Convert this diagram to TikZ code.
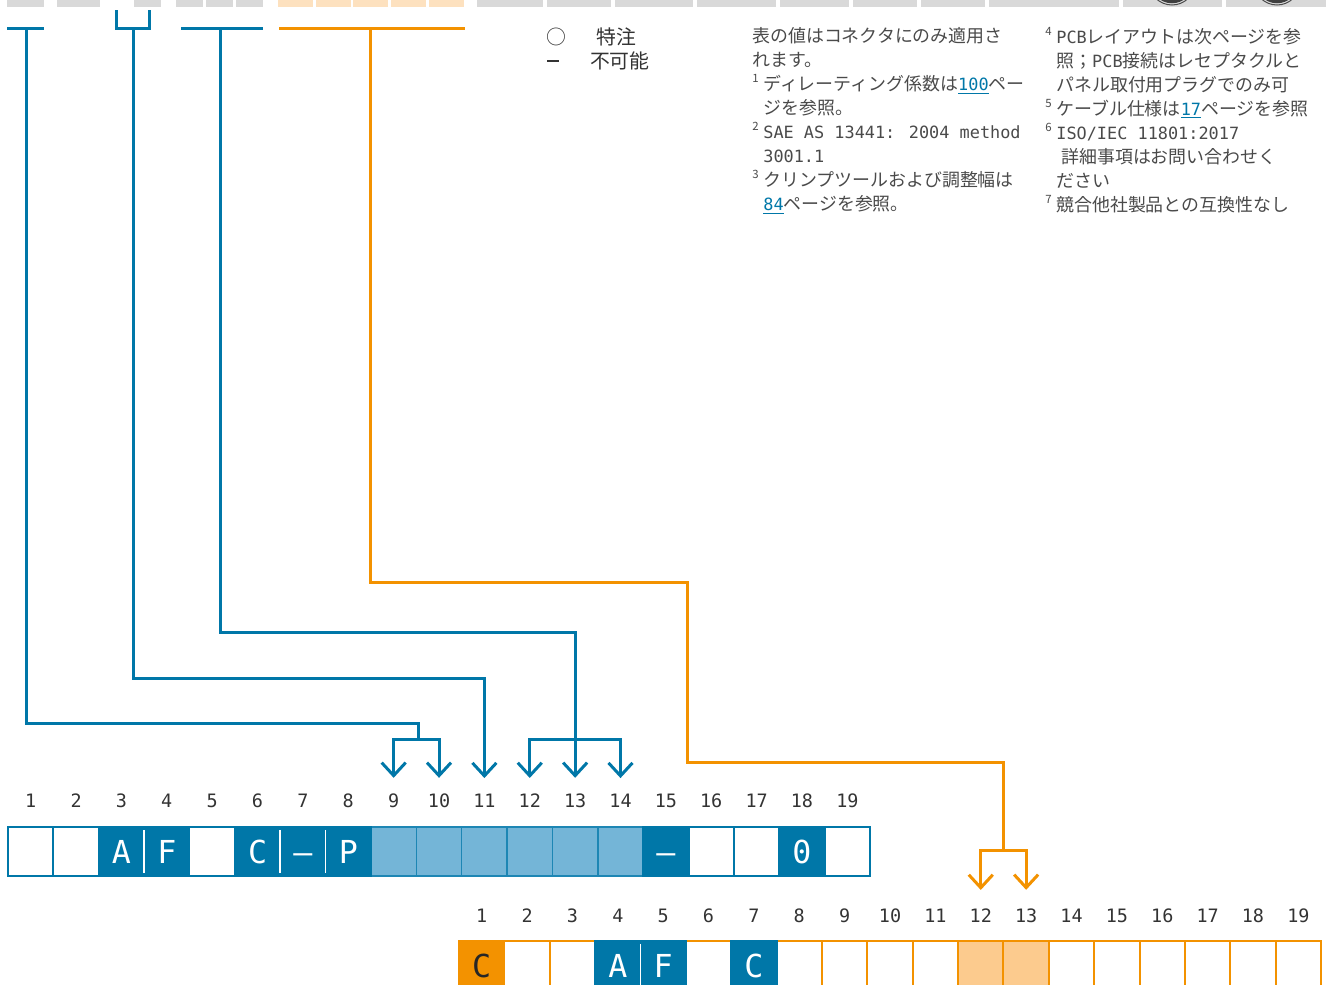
\documentclass[tikz,border=0pt]{standalone}
\usepackage{fontspec}
\usepackage{xcolor}
\usepackage{tikz}
\usetikzlibrary{arrows.meta,positioning,calc}

\newfontfamily\jpfont{Noto Sans CJK JP}
\newfontfamily\monofont{DejaVu Sans Mono}

\definecolor{pinblue}{HTML}{0077A8}
\definecolor{pinpale}{HTML}{74B5D7}
\definecolor{pinorange}{HTML}{F39200}
\definecolor{pinpeach}{HTML}{FCCB8E}
\definecolor{tabpeach}{HTML}{FDE1BF}
\definecolor{tabgray}{HTML}{D9D9D9}
\definecolor{notegray}{HTML}{4A4A4A}

\newcommand{\fnmark}[1]{\makebox[2.2mm][l]{\raisebox{0.8ex}{\fontsize{6.5}{7}\selectfont#1}}}
\newcommand{\fnskip}{\hspace*{2.2mm}}
\newcommand{\lat}[1]{{\monofont\fontsize{9.6}{13.66}\selectfont#1}}
\newcommand{\pagelink}[1]{\textcolor{pinblue}{\underline{\lat{#1}}}}

\begin{document}
\begin{tikzpicture}[x=0.2mm,y=-0.2mm,>={Straight Barb[length=2.6mm,width=4.8mm]},
  bluewire/.style={draw=pinblue,line width=0.6mm},
  orangewire/.style={draw=pinorange,line width=0.6mm},
  pin/.style={font=\monofont\fontsize{10.5}{12}\selectfont,text=black!80},
  blankcell/.style={draw=pinblue,line width=0.4mm,fill=white,outer sep=0,inner sep=0,
    minimum width=9.074mm,minimum height=9.8mm},
  darkcell/.style={blankcell,fill=pinblue,text=white,text height=4.6mm,text depth=0mm,
    font=\monofont\fontsize{18}{18}\selectfont},
  fadecell/.style={blankcell,fill=pinpale,draw=pinblue!75!pinpale,line width=0.3mm},
  slotcell/.style={blankcell,draw=pinorange,minimum height=10mm},
  ambercell/.style={darkcell,fill=pinorange,draw=pinorange,text=black!85,minimum height=10mm},
  peachcell/.style={slotcell,fill=pinpeach},
  notes/.style={align=left,inner sep=0,text=notegray,font=\jpfont\fontsize{10.2}{13.66}\selectfont},
  legend/.style={inner sep=0,text=black!80,font=\jpfont\fontsize{11.3}{13}\selectfont}]
  \useasboundingbox (0,0) rectangle (1330,984);
  \clip (0,0) rectangle (1330,984);

  \foreach \a/\b in {7/44,57/100,134/161,176/203,206/233,236/263,477/543,547/611,615/693,
    697/776,780/849,853/917,921/985,989/1119,1123/1222,1226/1326}
    \fill[tabgray] (\a,-10) rectangle (\b,7);
  \foreach \a/\b in {278/313,316/351,353/388,391/426,429/464}
    \fill[tabpeach] (\a,-10) rectangle (\b,7);
  \foreach \x in {1172,1277} {
    \draw[black!70,line width=0.2mm] (\x,-18) circle (23);
    \draw[black!75,line width=0.7mm] (\x,-18) circle (19.5);
  }

  \draw[bluewire] (7,28) -- (44,28);
  \draw[bluewire] (116,10) |- (149,28) -- (149,10);
  \draw[bluewire] (181,28) -- (263,28);
  \draw[orangewire] (279,28) -- (465,28);
  \coordinate (k1) at (26,28);
  \coordinate (k2) at (133,28);
  \coordinate (k3) at (220,28);
  \coordinate (k4) at (370,28);

  \node[legend,anchor=west] (special) at (546,37) {○};
  \node[legend,right=6mm of special] (specialtxt) {特注};
  \node[legend,anchor=west] (none) at (547,61) {\rule{2.4mm}{0.35mm}};
  \node[legend,right=6mm of none] (nonetxt) {不可能};

  \node[notes,anchor=north west] (notesL) at (752,27) {表の値はコネクタにのみ適用さ\\
    れます。\\
    \fnmark{1}ディレーティング係数は\pagelink{100}ペー\\
    \fnskip ジを参照。\\
    \fnmark{2}\lat{SAE AS 13441: 2004 method}\\
    \fnskip\lat{3001.1}\\
    \fnmark{3}クリンプツールおよび調整幅は\\
    \fnskip\pagelink{84}ページを参照。};
  \node[notes,anchor=north west] (notesR) at (1045,27) {\fnmark{4}\lat{PCB}レイアウトは次ページを参\\
    \fnskip 照；\lat{PCB}接続はレセプタクルと\\
    \fnskip パネル取付用プラグでのみ可\\
    \fnmark{5}ケーブル仕様は\pagelink{17}ページを参照\\
    \fnmark{6}\lat{ISO/IEC 11801:2017}\\
    \fnskip\hspace*{1mm}詳細事項はお問い合わせく\\
    \fnskip ださい\\
    \fnmark{7}競合他社製品との互換性なし};

  \foreach \i in {1,...,19} {
    \node[pin] (p\i) at ({8+45.37*(\i-0.5)},801) {\i};
    \node[pin] (q\i) at ({459+45.37*(\i-0.5)},916) {\i};
  }

  \foreach \i in {1,...,19}
    \node[blankcell] (c\i) at ({8+45.37*(\i-0.5)},851.5) {};
  \foreach \i in {9,...,14}
    \node[fadecell] (f\i) at (c\i) {};
  \foreach \i/\t in {3/A,4/F,6/C,7/\textendash,8/P,15/\textendash,18/0}
    \node[darkcell] (d\i) at (c\i) {\t};
  \foreach \i in {3,6,7}
    \draw[white,line width=0.3mm,shorten <=0.6mm,shorten >=0.6mm] (d\i.north east) -- (d\i.south east);

  \foreach \i in {1,...,19}
    \node[slotcell] (s\i) at ({459+45.37*(\i-0.5)},966) {};
  \node[ambercell] (a1) at (s1) {C};
  \foreach \i in {12,13}
    \node[peachcell] (h\i) at (s\i) {};
  \foreach \i/\t in {4/A,5/F,7/C}
    \node[darkcell,minimum height=10mm] (e\i) at (s\i) {\t};
  \draw[white,line width=0.3mm,shorten <=0.6mm] (e4.north east) -- (e4.south east);

  \coordinate (j1) at (418,739);
  \coordinate (j3) at (p13 |- 0,739);
  \coordinate (j4) at (1003,850);
  \draw[bluewire,->,shorten >=2mm] (k1) |- (418,723) -- (j1) -| (p9);
  \draw[bluewire,->,shorten >=2mm] (j1) -| (p10);
  \draw[bluewire,->,shorten >=2mm] (k2) |- (p11 |- 0,678) -- (p11);
  \draw[bluewire,->,shorten >=2mm] (k3) |- (p13 |- 0,632) -- (p13);
  \draw[bluewire,->,shorten >=2mm] (j3) -| (p12);
  \draw[bluewire,->,shorten >=2mm] (j3) -| (p14);
  \draw[orangewire,->,shorten >=2.6mm] (k4) |- (687,582) |- (1003,762) -- (j4) -| (q12);
  \draw[orangewire,->,shorten >=2.6mm] (j4) -| (q13);
\end{tikzpicture}
\end{document}
